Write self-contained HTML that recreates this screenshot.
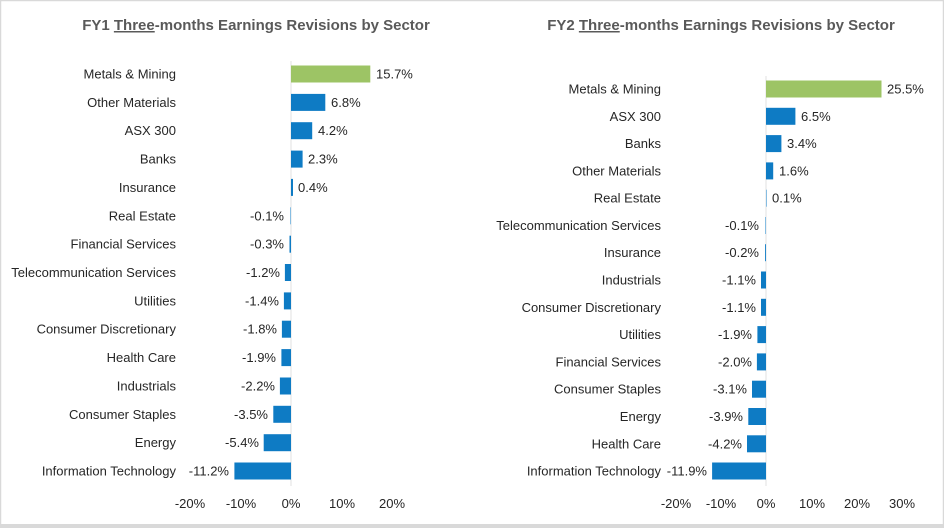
<!DOCTYPE html>
<html><head><meta charset="utf-8"><style>
body{margin:0;background:#fff}
svg{display:block;font-family:"Liberation Sans",sans-serif}
.c{font-size:13px;fill:#262626;text-anchor:end}
.v{font-size:13px;fill:#262626}
.ve{font-size:13px;fill:#262626;text-anchor:end}
.t{font-size:13px;fill:#262626;text-anchor:middle}
.h{font-size:15px;font-weight:bold;fill:#595959;text-anchor:middle}
</style></head><body>
<svg width="944" height="528" viewBox="0 0 944 528">
<rect x="0.5" y="0.5" width="943" height="525" fill="#fff" stroke="#d9d9d9" stroke-width="1.5"/>
<rect x="0" y="524" width="944" height="4" fill="#d9d9d9"/>
<!-- LEFT -->
<text class="h" x="256" y="30">FY1 <tspan text-decoration="underline">Three</tspan>-months Earnings Revisions by Sector</text>
<line x1="291" y1="61" x2="291" y2="486" stroke="#e0e0e0"/>
<g fill="#0e7bc4">
<rect x="291" y="65.5" width="79.3" height="17" fill="#9dc465"/>
<rect x="291" y="93.9" width="34.3" height="17"/>
<rect x="291" y="122.2" width="21.2" height="17"/>
<rect x="291" y="150.6" width="11.6" height="17"/>
<rect x="291" y="178.9" width="2" height="17"/>
<rect x="290.5" y="207.3" width="0.5" height="17"/>
<rect x="289.5" y="235.7" width="1.5" height="17"/>
<rect x="284.9" y="264" width="6.1" height="17"/>
<rect x="283.9" y="292.4" width="7.1" height="17"/>
<rect x="281.9" y="320.7" width="9.1" height="17"/>
<rect x="281.4" y="349.1" width="9.6" height="17"/>
<rect x="279.9" y="377.5" width="11.1" height="17"/>
<rect x="273.3" y="405.8" width="17.7" height="17"/>
<rect x="263.7" y="434.2" width="27.3" height="17"/>
<rect x="234.4" y="462.5" width="56.6" height="17"/>
</g>
<text class="c" x="176" y="78.5">Metals &amp; Mining</text>
<text class="c" x="176" y="106.9">Other Materials</text>
<text class="c" x="176" y="135.2">ASX 300</text>
<text class="c" x="176" y="163.6">Banks</text>
<text class="c" x="176" y="191.9">Insurance</text>
<text class="c" x="176" y="220.3">Real Estate</text>
<text class="c" x="176" y="248.7">Financial Services</text>
<text class="c" x="176" y="277">Telecommunication Services</text>
<text class="c" x="176" y="305.4">Utilities</text>
<text class="c" x="176" y="333.7">Consumer Discretionary</text>
<text class="c" x="176" y="362.1">Health Care</text>
<text class="c" x="176" y="390.5">Industrials</text>
<text class="c" x="176" y="418.8">Consumer Staples</text>
<text class="c" x="176" y="447.2">Energy</text>
<text class="c" x="176" y="475.5">Information Technology</text>
<text class="v" x="376" y="78.5">15.7%</text>
<text class="v" x="331" y="106.9">6.8%</text>
<text class="v" x="318" y="135.2">4.2%</text>
<text class="v" x="308" y="163.6">2.3%</text>
<text class="v" x="298" y="191.9">0.4%</text>
<text class="ve" x="284" y="220.3">-0.1%</text>
<text class="ve" x="284" y="248.7">-0.3%</text>
<text class="ve" x="280" y="277">-1.2%</text>
<text class="ve" x="279" y="305.4">-1.4%</text>
<text class="ve" x="277" y="333.7">-1.8%</text>
<text class="ve" x="276" y="362.1">-1.9%</text>
<text class="ve" x="275" y="390.5">-2.2%</text>
<text class="ve" x="268" y="418.8">-3.5%</text>
<text class="ve" x="259" y="447.2">-5.4%</text>
<text class="ve" x="229" y="475.5">-11.2%</text>
<text class="t" x="190" y="508">-20%</text>
<text class="t" x="241" y="508">-10%</text>
<text class="t" x="291" y="508">0%</text>
<text class="t" x="342" y="508">10%</text>
<text class="t" x="392" y="508">20%</text>
<!-- RIGHT -->
<text class="h" x="721" y="30">FY2 <tspan text-decoration="underline">Three</tspan>-months Earnings Revisions by Sector</text>
<line x1="766" y1="76" x2="766" y2="486" stroke="#e0e0e0"/>
<g fill="#0e7bc4">
<rect x="766" y="80.5" width="115.5" height="17" fill="#9dc465"/>
<rect x="766" y="107.8" width="29.4" height="17"/>
<rect x="766" y="135.1" width="15.4" height="17"/>
<rect x="766" y="162.4" width="7.2" height="17"/>
<rect x="766" y="189.7" width="0.5" height="17"/>
<rect x="765.5" y="217" width="0.5" height="17"/>
<rect x="765.1" y="244.2" width="0.9" height="17"/>
<rect x="761" y="271.5" width="5" height="17"/>
<rect x="761" y="298.8" width="5" height="17"/>
<rect x="757.4" y="326.1" width="8.6" height="17"/>
<rect x="756.9" y="353.4" width="9.1" height="17"/>
<rect x="752" y="380.7" width="14" height="17"/>
<rect x="748.3" y="408" width="17.7" height="17"/>
<rect x="747" y="435.3" width="19" height="17"/>
<rect x="712.1" y="462.5" width="53.9" height="17"/>
</g>
<text class="c" x="661" y="93.5">Metals &amp; Mining</text>
<text class="c" x="661" y="120.8">ASX 300</text>
<text class="c" x="661" y="148.1">Banks</text>
<text class="c" x="661" y="175.4">Other Materials</text>
<text class="c" x="661" y="202.7">Real Estate</text>
<text class="c" x="661" y="230">Telecommunication Services</text>
<text class="c" x="661" y="257.2">Insurance</text>
<text class="c" x="661" y="284.5">Industrials</text>
<text class="c" x="661" y="311.8">Consumer Discretionary</text>
<text class="c" x="661" y="339.1">Utilities</text>
<text class="c" x="661" y="366.4">Financial Services</text>
<text class="c" x="661" y="393.7">Consumer Staples</text>
<text class="c" x="661" y="421">Energy</text>
<text class="c" x="661" y="448.3">Health Care</text>
<text class="c" x="661" y="475.5">Information Technology</text>
<text class="v" x="887" y="93.5">25.5%</text>
<text class="v" x="801" y="120.8">6.5%</text>
<text class="v" x="787" y="148.1">3.4%</text>
<text class="v" x="779" y="175.4">1.6%</text>
<text class="v" x="772" y="202.7">0.1%</text>
<text class="ve" x="759" y="230">-0.1%</text>
<text class="ve" x="759" y="257.2">-0.2%</text>
<text class="ve" x="756" y="284.5">-1.1%</text>
<text class="ve" x="756" y="311.8">-1.1%</text>
<text class="ve" x="752" y="339.1">-1.9%</text>
<text class="ve" x="752" y="366.4">-2.0%</text>
<text class="ve" x="747" y="393.7">-3.1%</text>
<text class="ve" x="743" y="421">-3.9%</text>
<text class="ve" x="742" y="448.3">-4.2%</text>
<text class="ve" x="707" y="475.5">-11.9%</text>
<text class="t" x="676" y="508">-20%</text>
<text class="t" x="721" y="508">-10%</text>
<text class="t" x="766" y="508">0%</text>
<text class="t" x="812" y="508">10%</text>
<text class="t" x="857" y="508">20%</text>
<text class="t" x="902" y="508">30%</text>
</svg>
</body></html>
